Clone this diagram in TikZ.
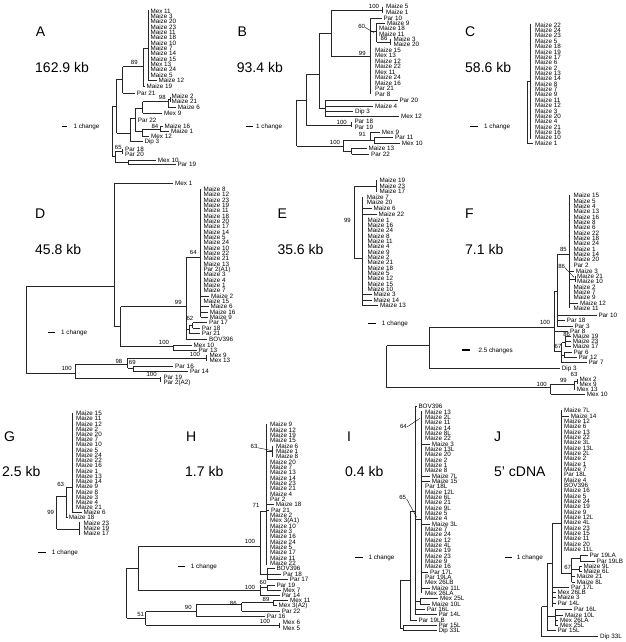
\documentclass[tikz,border=0pt]{standalone}
\usepackage{fontspec}
\setmainfont{Liberation Sans}
\newcounter{lc}
\tikzset{
 br/.style={line width=0.85pt, draw=black!85},
 lab/.style={anchor=west, inner sep=0pt, text height=4.4pt, text depth=0pt, font=\fontsize{6.3}{6.3}\selectfont},
 bsl/.style={inner sep=0pt, text height=4.2pt, text depth=0pt, font=\fontsize{6}{6}\selectfont},
 big/.style={anchor=west, inner sep=0pt, text height=10pt, text depth=0pt, font=\fontsize{14}{14}\selectfont},
 ptr/.style={line width=0.4pt},
 sb/.style={line width=1.3pt}
}
\newcommand\tlab[3]{\stepcounter{lc}\node[lab] (t\arabic{lc}) at (#1,#2) {#3};}
\newcommand\leaf[4]{\draw[br] (#1,#2) -- (#3,#2); \tlab{#3+5}{#2}{#4}}
\newcommand\hbr[3]{\draw[br] (#1,#2) -- (#3,#2);}
\newcommand\vbr[3]{\draw[br] (#1,#2) -- (#1,#3);}
\newcommand\bsv[3]{\stepcounter{lc}\node[bsl] (b\arabic{lc}) at (#1,#2) {#3};}
\newcommand\tcol[4]{\foreach \nm [count=\ii from 0] in {#4} {\tlab{#1}{#2+\ii*#3}{\nm}}}
\newcommand\sbar[5]{\draw[sb] (#1,#3) -- (#2,#3); \tlab{#4}{#3}{#5}}
\begin{document}
\begin{tikzpicture}[x=1pt,y=-1pt]
\fill[white] (0,0) rectangle (625,642);
\useasboundingbox (0,0) rectangle (625,642);
% panel letters and sizes
\node[big] (lA) at (35.7,32) {A}; \node[big] (kA) at (35,67) {162.9 kb};
\node[big] (lB) at (237.3,32) {B}; \node[big] (kB) at (236.7,67) {93.4 kb};
\node[big] (lC) at (465,32) {C}; \node[big] (kC) at (465,67) {58.6 kb};
\node[big] (lD) at (35,213.3) {D}; \node[big] (kD) at (35,249.3) {45.8 kb};
\node[big] (lE) at (277.3,213.3) {E}; \node[big] (kE) at (277.3,249.3) {35.6 kb};
\node[big] (lF) at (465,213.3) {F}; \node[big] (kF) at (465,249.3) {7.1 kb};
\node[big] (lG) at (4,436.7) {G}; \node[big] (kG) at (2,471) {2.5 kb};
\node[big] (lH) at (186,436.7) {H}; \node[big] (kH) at (185,471) {1.7 kb};
\node[big] (lI) at (347,436.7) {I}; \node[big] (kI) at (345,471) {0.4 kb};
\node[big] (lJ) at (494,436.7) {J}; \node[big] (kJ) at (494,471) {5' cDNA};

% ---------------- A
\begin{scope}[shift={(0,0)},scale=1/3]
\tcol{451}{33}{16}{Mex 11, Maize 3, Maize 20, Maize 23, Maize 11, Maize 18, Maize 10, Maize 7, Maize 14, Maize 15, Mex 13, Maize 24, Maize 5}
\vbr{445}{30}{241}
\leaf{445}{241}{470}{Maize 12}
\hbr{430}{145}{445}
\vbr{430}{145}{258}
\leaf{430}{258}{434}{Maize 19}
\hbr{368}{200}{430}
\bsv{403}{188}{89}
\vbr{368}{200}{280}
\leaf{368}{280}{405}{Par 21}
\hbr{350}{237}{368}
\vbr{350}{237}{400}
\hbr{338}{318}{350}
\vbr{338}{318}{470}
\hbr{338}{470}{345}
\vbr{345}{455}{487}
\hbr{345}{455}{367}
\bsv{355}{441}{65}
\vbr{367}{447}{463}
\tlab{375}{447}{Par 18}
\tlab{375}{463}{Par 20}
\hbr{345}{487}{385}
\vbr{385}{480}{494}
\leaf{385}{480}{468}{Mex 10}
\leaf{385}{494}{527}{Par 19}
\hbr{350}{400}{390}
\vbr{390}{355}{425}
\leaf{390}{425}{428}{Dip 3}
\hbr{390}{355}{405}
\vbr{405}{325}{395}
\hbr{405}{325}{428}
\vbr{428}{305}{340}
\hbr{428}{305}{505}
\bsv{487}{293}{98}
\vbr{505}{297}{323}
\hbr{505}{297}{510}
\vbr{510}{290}{305}
\tlab{514}{290}{Maize 2}
\tlab{514}{305}{Maize 21}
\leaf{505}{323}{528}{Maize 6}
\leaf{428}{340}{487}{Mex 9}
\leaf{405}{362}{408}{Par 22}
\hbr{405}{395}{428}
\vbr{428}{388}{410}
\hbr{428}{388}{480}
\bsv{465}{380}{84}
\vbr{480}{378}{395}
\leaf{480}{378}{488}{Maize 16}
\leaf{480}{395}{508}{Maize 1}
\leaf{428}{410}{448}{Mex 12}
\sbar{185}{200}{380}{220}{1 change}
\end{scope}

% ---------------- B
\begin{scope}[shift={(200,0)},scale=1/3]
\vbr{290}{300}{438}
\hbr{290}{300}{318}
\vbr{318}{222}{375}
\hbr{318}{222}{358}
\vbr{358}{100}{325}
\hbr{358}{100}{395}
\vbr{395}{30}{170}
\hbr{395}{30}{548}
\bsv{522}{18}{100}
\vbr{548}{20}{38}
\tlab{558}{20}{Maize 5}
\tlab{558}{38}{Maize 1}
\hbr{395}{170}{512}
\bsv{487}{160}{99}
\vbr{512}{55}{282}
\leaf{512}{55}{545}{Par 10}
\hbr{512}{95}{530}
\vbr{530}{70}{126}
\leaf{530}{70}{556}{Maize 9}
\tlab{537}{86}{Maize 18}
\tlab{537}{102}{Maize 11}
\hbr{530}{126}{570}
\vbr{570}{118}{134}
\tlab{580}{118}{Maize 3}
\tlab{580}{134}{Maize 20}
\bsv{552}{116}{86}
\bsv{485}{78}{60}
\draw[ptr] (495,82) -- (522,98);
\tcol{525}{150}{16.5}{Maize 15, Mex 13, Maize 12, Maize 22, Mex 11, Maize 24, Maize 16, Par 21, Par 8}
\hbr{358}{325}{375}
\vbr{375}{300}{350}
\leaf{375}{300}{593}{Par 20}
\leaf{375}{318}{520}{Maize 4}
\leaf{375}{335}{460}{Dip 3}
\leaf{375}{350}{598}{Mex 12}
\hbr{318}{375}{455}
\bsv{425}{366}{100}
\vbr{455}{365}{381}
\tlab{463}{365}{Par 18}
\tlab{463}{381}{Par 19}
\hbr{290}{438}{430}
\bsv{405}{428}{100}
\vbr{430}{420}{455}
\hbr{430}{420}{512}
\bsv{487}{404}{91}
\vbr{512}{397}{420}
\leaf{512}{397}{540}{Mex 9}
\hbr{512}{420}{522}
\vbr{522}{413}{430}
\leaf{522}{413}{580}{Par 11}
\leaf{522}{430}{600}{Mex 10}
\hbr{430}{455}{455}
\vbr{455}{445}{462}
\leaf{455}{445}{500}{Maize 13}
\leaf{455}{462}{508}{Par 22}
\sbar{137}{160}{380}{168}{1 change}
\end{scope}

% ---------------- C
\begin{scope}[shift={(405,0)},scale=1/3]
\vbr{375}{72}{418}
\hbr{367}{243}{375}
\vbr{367}{243}{430}
\hbr{367}{430}{383}
\tcol{390}{75}{16.1}{Maize 22, Maize 24, Maize 23, Maize 5, Maize 18, Maize 19, Maize 17, Maize 6, Maize 2, Maize 13, Maize 14, Maize 8, Maize 7, Maize 9, Maize 11, Maize 12, Maize 3, Maize 20, Maize 4, Maize 21, Maize 16, Maize 10, Maize 1}
\sbar{195}{218}{380}{237}{1 change}
\end{scope}

% ---------------- D
\begin{scope}[shift={(0,200)},scale=1/3]
\hbr{342}{-50}{520}
\tlab{525}{-50}{Mex 1}
\vbr{342}{-50}{380}
\vbr{78}{258}{520}
\hbr{78}{258}{342}
\hbr{342}{380}{362}
\vbr{362}{320}{440}
\hbr{362}{320}{558}
\bsv{535}{308}{99}
\vbr{558}{172}{416}
\hbr{558}{172}{602}
\bsv{580}{158}{64}
\vbr{602}{-34}{352}
\tcol{610}{-32}{16}{Maize 8, Maize 12, Maize 23, Maize 19, Maize 11, Maize 18, Maize 20, Maize 17, Maize 14, Maize 5, Maize 24, Maize 10, Maize 22, Maize 21, Maize 13, Par 2(A1), Maize 3, Maize 4, Maize 1, Maize 7}
\leaf{602}{288}{628}{Maize 2}
\tlab{610}{304}{Maize 15}
\leaf{602}{320}{626}{Maize 6}
\leaf{602}{336}{624}{Maize 16}
\leaf{602}{352}{624}{Maize 9}
\hbr{558}{388}{568}
\bsv{570}{356}{62}
\vbr{568}{376}{401}
\hbr{568}{376}{578}
\vbr{578}{368}{385}
\leaf{578}{368}{622}{Par 17}
\leaf{578}{385}{600}{Par 18}
\leaf{568}{401}{600}{Par 21}
\leaf{558}{417}{622}{BOV396}
\hbr{362}{440}{520}
\bsv{492}{428}{100}
\vbr{520}{435}{450}
\leaf{520}{435}{575}{Mex 10}
\leaf{520}{450}{590}{Par 13}
\hbr{78}{520}{225}
\bsv{200}{506}{100}
\vbr{225}{492}{535}
\hbr{225}{492}{383}
\bsv{357}{484}{98}
\vbr{383}{474}{505}
\hbr{383}{474}{620}
\bsv{585}{462}{100}
\vbr{620}{466}{482}
\tlab{628}{466}{Mex 9}
\tlab{628}{482}{Mex 13}
\hbr{383}{505}{400}
\bsv{397}{488}{69}
\vbr{400}{498}{514}
\leaf{400}{498}{520}{Par 16}
\leaf{400}{514}{565}{Par 14}
\hbr{225}{535}{480}
\bsv{455}{522}{100}
\vbr{480}{530}{547}
\tlab{490}{532}{Par 19}
\tlab{490}{547}{Par 2(A2)}
\sbar{145}{165}{398}{183}{1 change}
\end{scope}

% ---------------- E
\begin{scope}[shift={(290,200)},scale=1/3]
\vbr{192}{-42}{175}
\hbr{192}{-42}{258}
\vbr{258}{-60}{-24}
\tlab{268}{-58}{Maize 19}
\tlab{268}{-42}{Maize 23}
\tlab{268}{-26}{Maize 17}
\bsv{172}{62}{99}
\hbr{192}{175}{218}
\vbr{218}{-10}{318}
\tlab{230}{-8}{Maize 7}
\tlab{230}{8}{Maize 20}
\leaf{218}{26}{245}{Maize 6}
\leaf{218}{43}{260}{Maize 22}
\tcol{232}{60}{16}{Maize 1, Maize 16, Maize 24, Maize 8, Maize 11, Maize 4, Maize 9, Maize 2, Maize 21, Maize 18, Maize 5, Maize 12, Maize 15, Maize 10}
\leaf{218}{284}{245}{Maize 3}
\leaf{218}{300}{245}{Maize 14}
\leaf{218}{317}{265}{Maize 13}
\sbar{235}{258}{370}{275}{1 change}
\end{scope}

% ---------------- F
\begin{scope}[shift={(450,200)},scale=1/3]
\vbr{-190}{437}{563}
\hbr{-190}{437}{-62}
\vbr{-62}{382}{505}
\hbr{-62}{382}{312}
\bsv{285}{367}{100}
\hbr{-62}{505}{330}
\tlab{335}{505}{Dip 3}
\hbr{-190}{563}{302}
\bsv{275}{552}{100}
\vbr{302}{552}{582}
\hbr{302}{552}{372}
\bsv{340}{540}{99}
\vbr{372}{544}{567}
\hbr{372}{544}{382}
\vbr{382}{537}{552}
\tlab{388}{537}{Mex 2}
\tlab{388}{552}{Mex 9}
\leaf{372}{567}{375}{Mex 13}
\bsv{372}{524}{63}
\leaf{302}{582}{405}{Mex 10}
\vbr{312}{275}{455}
\hbr{312}{275}{322}
\vbr{322}{162}{378}
\hbr{322}{162}{358}
\bsv{340}{148}{85}
\vbr{358}{-15}{325}
\tcol{370}{-13}{16}{Maize 15, Maize 5, Maize 4, Maize 13, Maize 16, Maize 8, Maize 6, Maize 22, Maize 18, Maize 24, Maize 1, Maize 14, Maize 20, Par 2}
\leaf{358}{213}{372}{Maize 3}
\hbr{358}{237}{375}
\vbr{375}{229}{245}
\tlab{381}{229}{Maize 21}
\tlab{381}{245}{Maize 10}
\bsv{335}{198}{86}
\draw[ptr] (345,203) -- (372,232);
\tlab{370}{261}{Maize 2}
\tlab{370}{277}{Maize 7}
\tlab{370}{293}{Maize 9}
\leaf{358}{309}{385}{Maize 12}
\tlab{370}{325}{Maize 11}
\leaf{322}{345}{440}{Par 10}
\leaf{322}{362}{345}{Par 18}
\leaf{322}{378}{368}{Par 3}
\leaf{312}{395}{355}{Par 8}
\hbr{312}{455}{335}
\vbr{335}{428}{488}
\bsv{324}{438}{67}
\hbr{335}{428}{345}
\vbr{345}{410}{440}
\bsv{350}{403}{86}
\leaf{345}{410}{363}{Maize 19}
\leaf{345}{425}{363}{Maize 23}
\leaf{345}{440}{363}{Maize 17}
\hbr{335}{465}{342}
\vbr{342}{458}{473}
\leaf{342}{458}{365}{Par 6}
\leaf{342}{473}{380}{Par 12}
\leaf{335}{488}{410}{Par 7}
\sbar{35}{60}{450}{85}{2.5 changes}
\end{scope}

% ---------------- G
\begin{scope}[shift={(0,470)},scale=1/3]
\vbr{218}{-172}{128}
\tcol{228}{-170}{15.7}{Maize 15, Maize 11, Maize 12, Maize 2, Maize 20, Maize 7, Maize 10, Maize 5, Maize 24, Maize 22, Maize 16, Maize 1, Maize 13, Maize 14, Maize 9, Maize 8, Maize 3, Maize 4, Maize 21}
\leaf{218}{128}{245}{Maize 6}
\hbr{200}{52}{218}
\bsv{182}{44}{63}
\vbr{200}{52}{143}
\leaf{200}{143}{201}{Maize 18}
\hbr{170}{78}{200}
\vbr{170}{78}{178}
\bsv{152}{128}{99}
\hbr{170}{178}{238}
\vbr{238}{156}{194}
\tlab{250}{159}{Maize 23}
\tlab{250}{175}{Maize 19}
\tlab{250}{191}{Maize 17}
\sbar{115}{138}{248}{155}{1 change}
\end{scope}

% ---------------- H
\begin{scope}[shift={(150,470)},scale=1/3]
\vbr{350}{-138}{285}
\tcol{360}{-136}{16}{Maize 9, Maize 12, Maize 19, Maize 15}
\hbr{350}{-56}{368}
\vbr{368}{-72}{-40}
\tlab{378}{-72}{Maize 6}
\tlab{378}{-56}{Maize 1}
\tlab{378}{-40}{Maize 8}
\bsv{312}{-70}{63}
\draw[ptr] (322,-67) -- (366,-58);
\tcol{360}{-24}{16}{Maize 20, Maize 7, Maize 13, Maize 14, Maize 23, Maize 21, Maize 4, Par 2}
\leaf{350}{104}{372}{Maize 18}
\leaf{350}{120}{358}{Par 21}
\tcol{360}{136}{16}{Maize 2, Mex 3(A1), Maize 10, Maize 3, Maize 16, Maize 24, Maize 5, Maize 17, Maize 11, Maize 22}
\bsv{318}{107}{71}
\vbr{330}{125}{312}
\hbr{330}{125}{350}
\hbr{330}{312}{352}
\vbr{352}{296}{328}
\leaf{352}{296}{374}{BOV396}
\leaf{352}{312}{394}{Par 18}
\leaf{352}{328}{414}{Par 17}
\vbr{-35}{228}{360}
\hbr{-35}{228}{330}
\bsv{300}{215}{100}
\hbr{-35}{360}{330}
\vbr{330}{346}{376}
\bsv{300}{352}{100}
\hbr{330}{352}{352}
\vbr{352}{345}{360}
\bsv{339}{338}{60}
\leaf{352}{345}{374}{Par 19}
\leaf{352}{360}{394}{Mex 7}
\leaf{330}{376}{389}{Par 14}
\vbr{-70}{295}{445}
\hbr{-70}{295}{-35}
\hbr{-70}{445}{-13}
\bsv{-28}{432}{51}
\vbr{-13}{425}{466}
\hbr{-13}{425}{138}
\bsv{115}{412}{90}
\vbr{138}{404}{440}
\hbr{138}{404}{275}
\bsv{250}{401}{86}
\vbr{275}{398}{423}
\hbr{275}{398}{370}
\bsv{348}{388}{89}
\vbr{370}{392}{407}
\leaf{370}{392}{415}{Mex 11}
\leaf{370}{407}{380}{Mex 3(A2)}
\leaf{275}{423}{390}{Par 22}
\leaf{138}{440}{345}{Par 16}
\hbr{-13}{466}{388}
\bsv{345}{454}{100}
\vbr{388}{458}{474}
\tlab{398}{458}{Mex 6}
\tlab{398}{474}{Mex 5}
\sbar{85}{105}{290}{122}{1 change}
\end{scope}

% ---------------- I
\begin{scope}[shift={(370,460)},scale=1/3]
\vbr{90}{362}{505}
\hbr{90}{362}{120}
\hbr{90}{505}{100}
\vbr{100}{496}{512}
\leaf{100}{496}{200}{Par 15L}
\leaf{100}{512}{200}{Dip 33L}
\vbr{120}{155}{480}
\hbr{120}{155}{135}
\leaf{120}{480}{140}{Par 19LB}
\vbr{135}{-160}{464}
\leaf{135}{-160}{140}{BOV396}
\hbr{135}{178}{155}
\bsv{98}{112}{65}
\draw[ptr] (110,117) -- (140,172);
\vbr{155}{-146}{400}
\tcol{165}{-144}{16}{Maize 13, Maize 2L, Maize 11, Maize 14, Maize 8L, Maize 22}
\leaf{155}{-48}{180}{Maize 3}
\tcol{165}{-32}{16}{Maize 13L, Maize 20, Maize 2, Maize 1, Maize 8}
\leaf{155}{48}{180}{Maize 7L}
\leaf{155}{64}{180}{Maize 15}
\tcol{165}{80}{16}{Par 18L, Maize 12L, Maize 6L, Maize 21, Maize 9L, Maize 5, Maize 4}
\leaf{155}{192}{180}{Maize 3L}
\tcol{165}{208}{16}{Maize 7, Maize 24, Maize 12, Maize 4L, Maize 19, Maize 23, Maize 9, Maize 16}
\leaf{155}{336}{175}{Par 17L}
\tcol{165}{352}{16}{Par 19LA, Mex 26LB}
\leaf{155}{384}{180}{Maize 11L}
\tlab{165}{400}{Mex 26LA}
\hbr{135}{424}{150}
\vbr{150}{416}{432}
\leaf{150}{416}{205}{Mex 25L}
\leaf{150}{432}{180}{Maize 10L}
\leaf{135}{448}{165}{Par 16L}
\leaf{135}{464}{200}{Par 14L}
\bsv{100}{-102}{64}
\draw[ptr] (112,-100) -- (150,-125);
\sbar{-45}{-22}{292}{-5}{1 change}
\end{scope}

% ---------------- J
\begin{scope}[shift={(500,460)},scale=1/3]
\vbr{183}{-150}{340}
\tlab{192}{-148}{Maize 7L}
\leaf{183}{-132}{207}{Maize 14}
\tcol{192}{-116}{16}{Maize 12, Maize 6, Maize 13, Maize 22, Maize 3L, Maize 13L, Maize 2L, Maize 2, Maize 1, Maize 7, Par 18L, Maize 4, BOV396, Maize 16, Maize 5, Maize 24, Maize 19, Maize 9, Maize 12L, Maize 4L, Maize 23, Maize 15, Maize 11, Maize 20, Maize 11L}
\hbr{183}{340}{215}
\bsv{203}{322}{67}
\vbr{215}{295}{366}
\hbr{215}{295}{240}
\vbr{240}{287}{303}
\leaf{240}{287}{263}{Par 19LA}
\leaf{240}{303}{285}{Par 19LB}
\hbr{215}{327}{238}
\vbr{238}{320}{335}
\leaf{238}{320}{245}{Maize 9L}
\leaf{238}{335}{245}{Maize 6L}
\leaf{215}{350}{225}{Maize 21}
\leaf{215}{366}{225}{Maize 8L}
\vbr{158}{190}{440}
\hbr{158}{190}{183}
\leaf{158}{383}{208}{Par 17L}
\leaf{158}{398}{167}{Mex 26LB}
\leaf{158}{413}{167}{Maize 3}
\leaf{158}{430}{167}{Par 14L}
\vbr{165}{448}{496}
\leaf{165}{448}{217}{Par 16L}
\leaf{165}{465}{190}{Maize 10L}
\leaf{165}{480}{175}{Mex 26LA}
\leaf{165}{496}{175}{Mex 25L}
\vbr{142}{310}{512}
\hbr{142}{310}{158}
\hbr{142}{470}{165}
\leaf{142}{512}{167}{Par 15L}
\vbr{125}{440}{530}
\hbr{125}{440}{142}
\leaf{125}{530}{295}{Dip 33L}
\sbar{15}{35}{293}{50}{1 change}
\end{scope}
\end{tikzpicture}
\end{document}
